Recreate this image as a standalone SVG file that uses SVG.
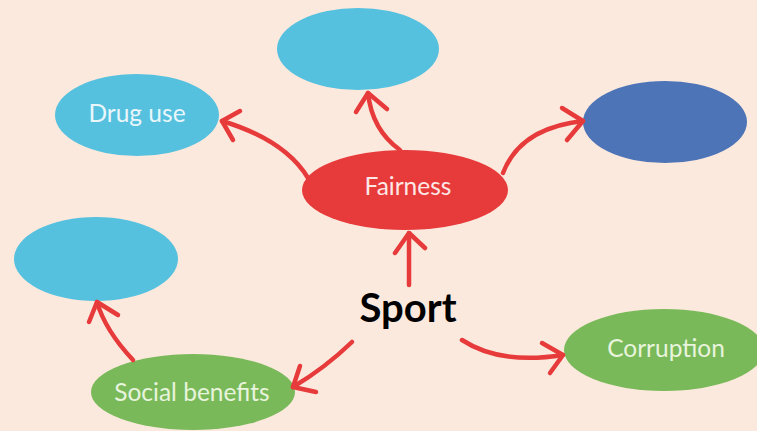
<svg xmlns="http://www.w3.org/2000/svg" width="757" height="431" viewBox="0 0 757 431">
<style>
.lb{fill:#55c1df}
.db{fill:#4d74b6}
.rd{fill:#e73a3b}
.gr{fill:#79b95a}
.t{font-family:Lato,"Open Sans",sans-serif;font-size:24.5px;text-anchor:middle}
.tb{fill:#e9f6fb}
.tg{fill:#e8f4dc}
.tr{fill:#fde8e6}
.c{fill:none;stroke:#e73a3b;stroke-width:4.5;stroke-linecap:round;stroke-linejoin:round}
</style>
<rect width="757" height="431" fill="#fce9dd"/>
<g id="drug-use"><ellipse class="lb" cx="137" cy="115" rx="82" ry="41"/><text class="t tb" x="137" y="122">Drug use</text></g>
<g id="top-blank"><ellipse class="lb" cx="358" cy="49" rx="81" ry="41"/></g>
<g id="right-blank"><ellipse class="db" cx="665" cy="122" rx="82" ry="41"/></g>
<g id="left-blank"><ellipse class="lb" cx="96" cy="259" rx="82" ry="42"/></g>
<g id="fairness"><ellipse class="rd" cx="405" cy="190" rx="103" ry="40"/><text class="t tr" x="408" y="195">Fairness</text></g>
<g id="social-benefits"><ellipse class="gr" cx="193" cy="392" rx="102" ry="38"/><text class="t tg" x="192" y="401">Social benefits</text></g>
<g id="corruption"><ellipse class="gr" cx="664" cy="350" rx="100" ry="41"/><text class="t tg" x="666" y="357">Corruption</text></g>
<g id="sport"><text x="408" y="322" font-family="Lato,'Open Sans',sans-serif" font-size="40" font-weight="bold" text-anchor="middle" fill="#000">Sport</text></g>
<g id="connectors">
<path class="c" d="M308,178 Q285,140 222,121"/>
<path class="c" d="M240,111 L222,121 L233,140"/>
<path class="c" d="M400,150 Q372,130 368,93"/>
<path class="c" d="M356,112 L368,93 L387,109"/>
<path class="c" d="M503,173 Q520,128 583,121"/>
<path class="c" d="M562,108 L583,121 L567,140"/>
<path class="c" d="M409,285 L409,233"/>
<path class="c" d="M395,253 L409,233 L425,248"/>
<path class="c" d="M462,340 Q500,365 563,355"/>
<path class="c" d="M542,343 L563,355 L550,373"/>
<path class="c" d="M352,342 Q325,368 293,387"/>
<path class="c" d="M300,366 L293,387 L316,392"/>
<path class="c" d="M133,360 Q105,330 97,302"/>
<path class="c" d="M89,322 L97,302 L118,315"/>
</g>
</svg>
